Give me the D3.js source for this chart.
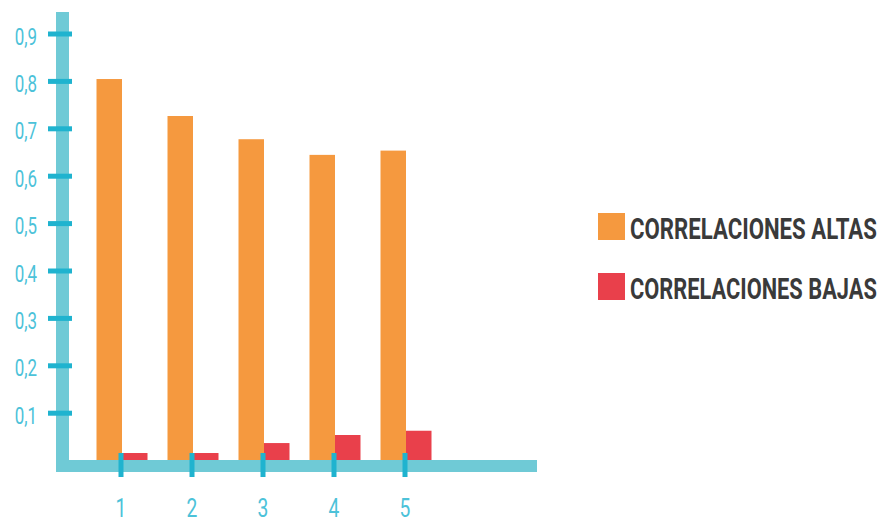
<!DOCTYPE html>
<html>
<head>
<meta charset="utf-8">
<script src="https://cdn.jsdelivr.net/npm/d3@7"></script>
<style>
  html, body { margin: 0; padding: 0; background: #ffffff; }
  svg { display: block; }
</style>
</head>
<body>
<svg id="chart" width="882" height="523"></svg>
<script>
// Groups along the horizontal axis
const categories = ["1", "2", "3", "4", "5"];
// Series values per group
const altas = [0.805, 0.727, 0.678, 0.645, 0.654];
const bajas = [0.016, 0.016, 0.037, 0.054, 0.063];
// Vertical axis ticks and their labels
const yTicks = [0.1, 0.2, 0.3, 0.4, 0.5, 0.6, 0.7, 0.8, 0.9];
const yTickLabels = ["0,1", "0,2", "0,3", "0,4", "0,5", "0,6", "0,7", "0,8", "0,9"];
// Legend entries
const seriesNames = ["CORRELACIONES ALTAS", "CORRELACIONES BAJAS"];

const colors = { altas: "#f5993f", bajas: "#e9404b" };
const axisColor = "#6fcad6";
const tickColor = "#1fb3cf";
const labelColor = "#4cc2d9";

const svg = d3.select("#chart");

const y = d3.scaleLinear().domain([0, 0.9]).range([460.6, 34]);
const x = d3.scalePoint().domain(categories).range([121, 405]);

const barW = 25.5;

// vertical axis band
svg.append("rect")
  .attr("x", 56).attr("y", 12).attr("width", 13).attr("height", 460)
  .attr("fill", axisColor);

// bars: high correlations left of each tick, low correlations right of it
const g = svg.append("g");
g.selectAll("rect.altas").data(categories).join("rect")
  .attr("class", "altas")
  .attr("x", d => x(d) + 1 - barW)
  .attr("y", (d, i) => y(altas[i]))
  .attr("width", barW)
  .attr("height", (d, i) => y(0) - y(altas[i]))
  .attr("fill", colors.altas);

g.selectAll("rect.bajas").data(categories).join("rect")
  .attr("class", "bajas")
  .attr("x", d => x(d) + 1)
  .attr("y", (d, i) => y(bajas[i]))
  .attr("width", barW)
  .attr("height", (d, i) => y(0) - y(bajas[i]))
  .attr("fill", colors.bajas);

// horizontal axis band
svg.append("rect")
  .attr("x", 56).attr("y", 460).attr("width", 481).attr("height", 12)
  .attr("fill", axisColor);

// y ticks
svg.selectAll("rect.ytick").data(yTicks).join("rect")
  .attr("class", "ytick")
  .attr("x", 48).attr("width", 24)
  .attr("y", d => y(d) - 2.5).attr("height", 5)
  .attr("fill", tickColor);

svg.selectAll("text.ylab").data(yTicks).join("text")
  .attr("class", "ylab")
  .attr("transform", d => `translate(37,${y(d) + 10.5}) scale(0.72,1)`)
  .attr("text-anchor", "end")
  .attr("font-family", "Roboto, 'DejaVu Sans', sans-serif")
  .attr("font-size", 23.5)
  .attr("fill", labelColor)
  .text((d, i) => yTickLabels[i]);

// x ticks
svg.selectAll("rect.xtick").data(categories).join("rect")
  .attr("class", "xtick")
  .attr("x", d => x(d) - 2.5).attr("width", 5)
  .attr("y", 453).attr("height", 24)
  .attr("fill", tickColor);

svg.selectAll("text.xlab").data(categories).join("text")
  .attr("class", "xlab")
  .attr("transform", d => `translate(${x(d)},516.5) scale(0.74,1)`)
  .attr("text-anchor", "middle")
  .attr("font-family", "Roboto, 'DejaVu Sans', sans-serif")
  .attr("font-size", 26)
  .attr("fill", labelColor)
  .text(d => d);

// legend
const legend = svg.append("g");
const legendColors = [colors.altas, colors.bajas];
const legendRows = legend.selectAll("g").data(seriesNames).join("g")
  .attr("transform", (d, i) => `translate(598,${213 + i * 60})`);

legendRows.append("rect")
  .attr("width", 27).attr("height", 27)
  .attr("fill", (d, i) => legendColors[i]);

// condensed label: squeeze each text horizontally to a fixed width
const legendTextWidth = 247;
legendRows.append("text")
  .attr("font-family", "Roboto, 'DejaVu Sans', sans-serif")
  .attr("font-weight", "bold")
  .attr("font-size", 30)
  .attr("fill", "#3a3a3a")
  .text(d => d)
  .attr("transform", function () {
    const w = this.getComputedTextLength();
    return `translate(32,26) scale(${legendTextWidth / w},1)`;
  });
</script>
</body>
</html>
